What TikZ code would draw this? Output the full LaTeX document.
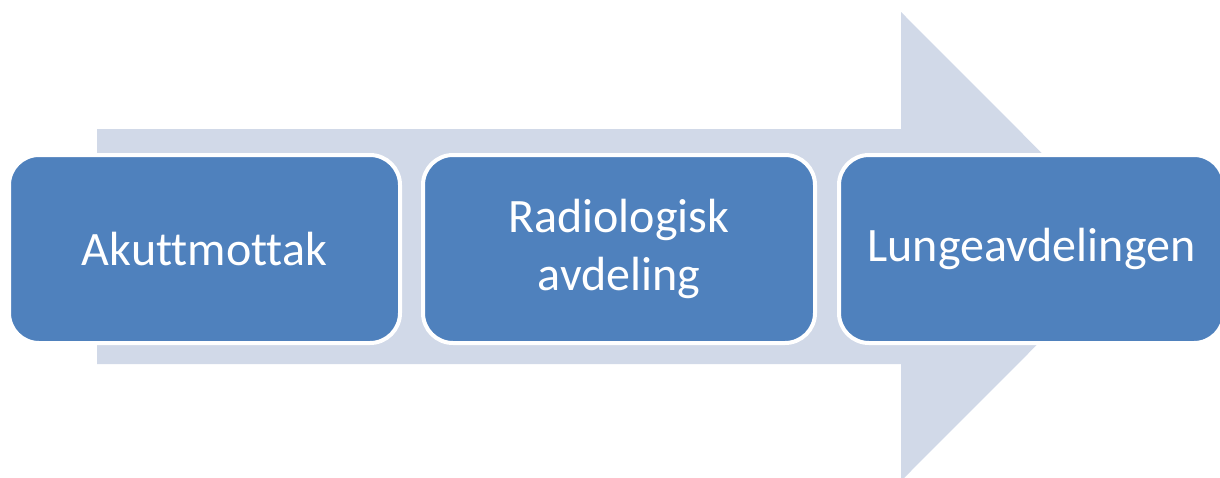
\documentclass[tikz,border=0pt]{standalone}
\usepackage{fontspec}
\setmainfont[Ligatures=NoCommon]{Carlito}
\definecolor{boxblue}{HTML}{4F81BD}
\definecolor{arrowgray}{HTML}{D1D9E8}
\begin{document}
\begin{tikzpicture}[x=1pt,y=-1pt,
  stagebox/.style={fill=boxblue, draw=white, line width=4pt, rounded corners=30pt,
    minimum height=188pt, text=white, align=center, inner sep=0pt,
    font=\fontsize{48}{58}\selectfont, anchor=north west}]
\useasboundingbox (0,0) rectangle (1220,477);
\begin{scope}
\clip (0,0) rectangle (1220,477);
\fill[arrowgray] (97,129) -- (901,129) -- (901,12) -- (1135,246.5) -- (901,481) -- (901,364) -- (97,364) -- cycle;
\end{scope}
\node[stagebox, minimum width=391pt] (a) at (7,153) {Akuttmottak};
\node[stagebox, minimum width=392pt] (b) at (421,153) {Radiologisk\\avdeling};
\node[stagebox, minimum width=385pt] (c) at (837,153) {Lungeavdelingen};
\end{tikzpicture}
\end{document}
